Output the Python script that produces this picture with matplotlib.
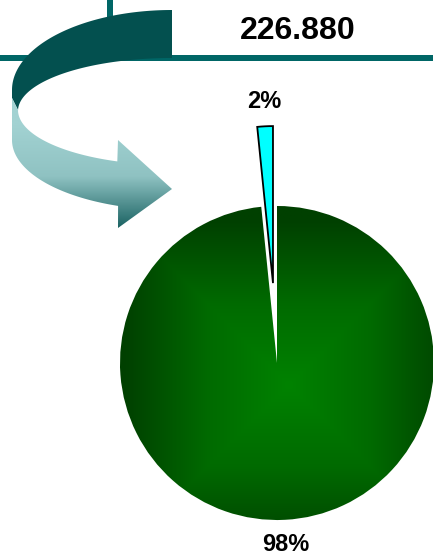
import numpy as np
import matplotlib.pyplot as plt
from matplotlib.patches import Polygon, Rectangle
from matplotlib.colors import LinearSegmentedColormap

plt.rcParams['font.family'] = ['Liberation Sans', 'DejaVu Sans']

# data
total_label = "226.880"
parts = [1.6, 98.4]
part_colors = ['#00ffff', '#006400']

W, H = 433, 557
fig = plt.figure(figsize=(W / 100, H / 100), dpi=100)
ax = fig.add_axes([0, 0, 1, 1])

# pie (y axis is flipped later, so draw clockwise from -90)
wedges, texts, autotexts = ax.pie(parts, colors=part_colors, startangle=-90, counterclock=False,
                                  explode=[80, 0], center=(277, 363), radius=157,
                                  autopct='%.0f%%', pctdistance=1.16,
                                  textprops=dict(fontsize=17, fontweight='bold', color='black'))
wedges[0].set_edgecolor('black')
wedges[0].set_linewidth(1.3)
wedges[0].set_zorder(3)
wedges[1].set_facecolor('none')
wedges[1].set_linewidth(0)

# green shading, square-ish path gradient clipped to the big wedge
xs = np.linspace(118, 436, 400)
ys = np.linspace(204, 522, 400)
X, Y = np.meshgrid(xs, ys)
t = np.maximum(np.abs(X - 289) / 165, np.abs(Y - 385) / 165)
t = np.clip(t, 0, 1)
green_cmap = LinearSegmentedColormap.from_list('g', ['#008200', '#006a00', '#004000'])
im = ax.imshow(t, cmap=green_cmap, vmin=0, vmax=1, extent=(118, 436, 522, 204),
               origin='upper', interpolation='bilinear', zorder=2)
im.set_clip_path(wedges[1])

# teal lines at the top
ax.add_patch(Rectangle((0, 55), W, 6, color='#006666', lw=0, zorder=1))
ax.add_patch(Rectangle((107, 0), 6, 56, color='#006666', lw=0, zorder=1))

# curved ribbon arrow
def arc(cx, cy, a, b, t0, t1, n=80):
    tt = np.radians(np.linspace(t0, t1, n))
    return np.column_stack([cx + a * np.cos(tt), cy - b * np.sin(tt)])

# back side (dark)
dark = np.vstack([arc(172, 90, 160, 80, 90, 180), [[12, 98], [18, 110]],
                  arc(172, 111, 154, 53, 180, 90)])
ax.add_patch(Polygon(dark, closed=True, color='#03504f', lw=0, zorder=4))

# front side (light, shaded) with head
head = np.array([[118, 228], [172, 189], [118, 140]])
light = np.vstack([[[12, 98]], arc(172, 140, 160, 70, 180, 250.3), head,
                   arc(172, 110, 154, 55, 249.2, 180)])
light_patch = Polygon(light, closed=True, facecolor='none', lw=0, zorder=4)
ax.add_patch(light_patch)
gy = np.linspace(85, 235, 200)
gv = np.clip((gy - 125) / (228 - 125), 0, 1)[:, None] * np.ones((1, 10))
teal_cmap = LinearSegmentedColormap.from_list('t', ['#a2d2d2', '#8fc2c2', '#1b6363'])
im2 = ax.imshow(gv, cmap=teal_cmap, vmin=0, vmax=1, extent=(0, 180, 235, 85),
                origin='upper', interpolation='bilinear', zorder=4, aspect='auto')
im2.set_clip_path(light_patch)

ax.text(298, 31, total_label, ha='center', va='center', fontsize=23, fontweight='bold')

ax.set_xlim(0, W)
ax.set_ylim(H, 0)
ax.set_aspect('auto')
ax.axis('off')

fig.savefig('out.png', dpi=100)
